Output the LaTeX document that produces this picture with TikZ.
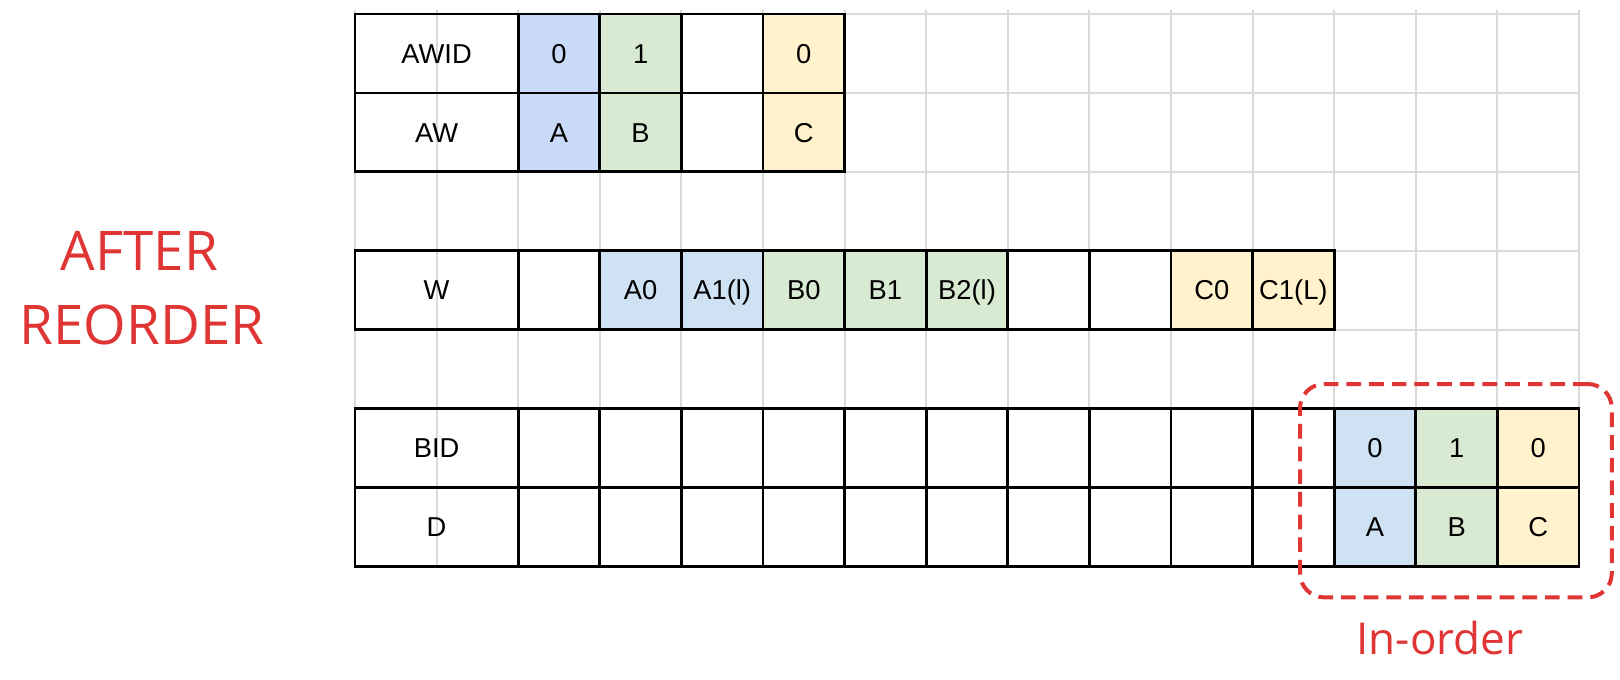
\documentclass[tikz,border=0pt]{standalone}
\usepackage{fontspec}
\setmainfont{Liberation Sans}
\newfontfamily\redfont{Open Sans}
\definecolor{blueA}{HTML}{C9DAF8}
\definecolor{blueB}{HTML}{CFE2F3}
\definecolor{greenC}{HTML}{D9EAD3}
\definecolor{yellowC}{HTML}{FFF2CC}
\definecolor{redC}{HTML}{E03535}
\definecolor{gridC}{HTML}{DADADA}
\begin{document}
\begin{tikzpicture}[x=0.75pt,y=-0.75pt,
  gridline/.style={draw=gridC,line width=1.6pt},
  cell/.style={draw=black,line width=2pt,minimum width=61.2pt,minimum height=59.2pt,
    inner sep=0pt,font=\fontsize{20.5pt}{24pt}\selectfont,text height=14.7pt,text depth=0pt},
  labelcell/.style={cell,minimum width=122.4pt},
  bigred/.style={text=redC,inner sep=0pt,font=\redfont\fontsize{41pt}{48pt}\selectfont,
    text height=29.3pt,text depth=0pt},
  smallred/.style={text=redC,inner sep=0pt,font=\redfont\fontsize{33pt}{38pt}\selectfont,
    text height=23.6pt,text depth=0pt},
  inorderbox/.style={draw=redC,line width=3pt,dash pattern=on 11pt off 6pt,
    rounded corners=18pt,minimum width=233.8pt,minimum height=160pt,inner sep=0pt}]
\useasboundingbox (0,0) rectangle (1620,680);
% background grid
\foreach \k in {0,...,15}
  \draw[gridline] ({355+81.6*\k},10) -- ({355+81.6*\k},566.3);
\foreach \j in {0,...,7}
  \draw[gridline] (355,{14+78.9*\j}) -- (1579,{14+78.9*\j});
% top table
\node[labelcell] (awid) at (436.6,53.45) {AWID};
\node[cell,fill=blueA] (awid2) at ({395.8+81.6*2},53.45) {0};
\node[cell,fill=greenC] (awid3) at ({395.8+81.6*3},53.45) {1};
\node[cell] (awid4) at ({395.8+81.6*4},53.45) {};
\node[cell,fill=yellowC] (awid5) at ({395.8+81.6*5},53.45) {0};
\node[labelcell] (aw) at (436.6,132.35) {AW};
\node[cell,fill=blueA] (aw2) at ({395.8+81.6*2},132.35) {A};
\node[cell,fill=greenC] (aw3) at ({395.8+81.6*3},132.35) {B};
\node[cell] (aw4) at ({395.8+81.6*4},132.35) {};
\node[cell,fill=yellowC] (aw5) at ({395.8+81.6*5},132.35) {C};
% W table
\node[labelcell] (w) at (436.6,290.15) {W};
\node[cell] (w2) at ({395.8+81.6*2},290.15) {};
\node[cell,fill=blueB] (w3) at ({395.8+81.6*3},290.15) {A0};
\node[cell,fill=blueB] (w4) at ({395.8+81.6*4},290.15) {A1(l)};
\node[cell,fill=greenC] (w5) at ({395.8+81.6*5},290.15) {B0};
\node[cell,fill=greenC] (w6) at ({395.8+81.6*6},290.15) {B1};
\node[cell,fill=greenC] (w7) at ({395.8+81.6*7},290.15) {B2(l)};
\node[cell] (w8) at ({395.8+81.6*8},290.15) {};
\node[cell] (w9) at ({395.8+81.6*9},290.15) {};
\node[cell,fill=yellowC] (w10) at ({395.8+81.6*10},290.15) {C0};
\node[cell,fill=yellowC] (w11) at ({395.8+81.6*11},290.15) {C1(L)};
% BID / D table
\node[labelcell] (bid) at (436.6,448) {BID};
\node[labelcell] (d) at (436.6,526.9) {D};
\foreach \k in {2,...,11}{
  \node[cell] (bid\k) at ({395.8+81.6*\k},448) {};
  \node[cell] (d\k) at ({395.8+81.6*\k},526.9) {};
}
\node[cell,fill=blueB] (bid12) at ({395.8+81.6*12},448) {0};
\node[cell,fill=greenC] (bid13) at ({395.8+81.6*13},448) {1};
\node[cell,fill=yellowC] (bid14) at ({395.8+81.6*14},448) {0};
\node[cell,fill=blueB] (d12) at ({395.8+81.6*12},526.9) {A};
\node[cell,fill=greenC] (d13) at ({395.8+81.6*13},526.9) {B};
\node[cell,fill=yellowC] (d14) at ({395.8+81.6*14},526.9) {C};
% in-order highlight
\node[inorderbox] (inorder) at (1455.9,490.7) {};
\node[smallred] (inorderlabel) at (1440,638.3) {In-order};
% left title
\node[bigred] (after) at (139.5,250.7) {AFTER};
\node[bigred] (reorder) at (142,325) {REORDER};
\end{tikzpicture}
\end{document}
